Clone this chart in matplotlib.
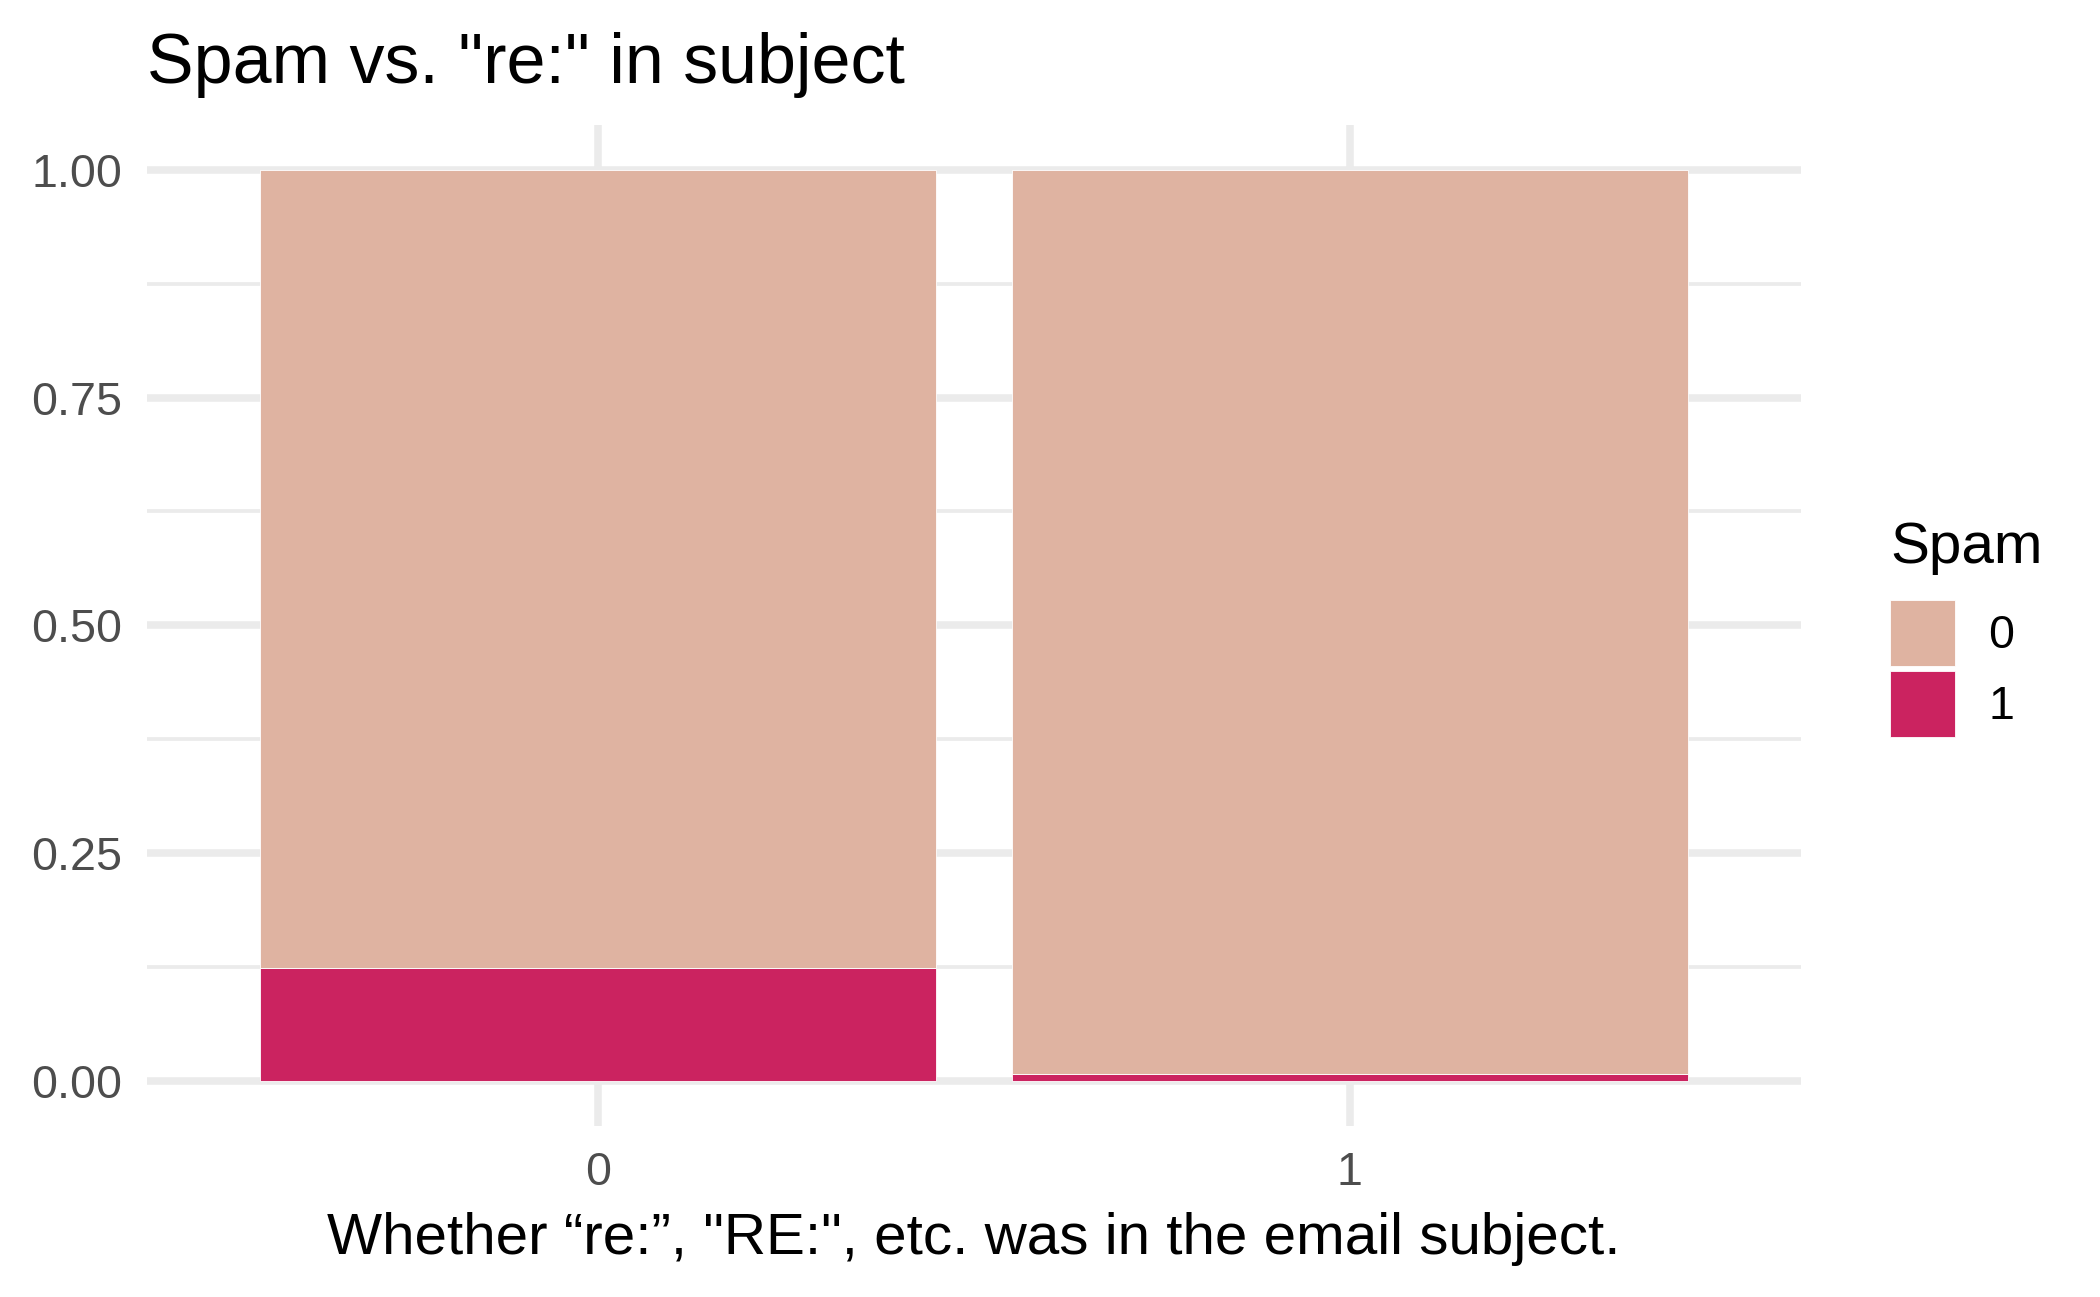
import matplotlib
matplotlib.use("Agg")
import matplotlib.pyplot as plt
import numpy as np

# proportions of spam by whether "re:" was in the subject
categories = ["0", "1"]
spam_1 = [0.1234, 0.0074]
spam_0 = [1 - v for v in spam_1]
fill_labels = ["0", "1"]
fill_colors = ["#DFB3A1", "#CB2360"]

plt.rcParams["font.family"] = ["Liberation Sans", "DejaVu Sans"]

fig = plt.figure(figsize=(7.0, 1297 / 300), dpi=300)
ax = fig.add_axes([0.07, 0.1318, 0.7876, 0.7722])

x = np.arange(len(categories))
b1 = ax.bar(x, spam_1, width=0.9, color=fill_colors[1], edgecolor="white", linewidth=0.2, zorder=2)
b0 = ax.bar(x, spam_0, width=0.9, bottom=spam_1, color=fill_colors[0],
            edgecolor="white", linewidth=0.2, zorder=2)

ax.set_xlim(-0.6, len(categories) - 0.4)
ax.set_ylim(-0.05, 1.05)
ax.set_xticks(x)
ax.set_xticklabels(categories)
ax.set_yticks([0, 0.25, 0.5, 0.75, 1.0])
ax.set_yticklabels(["0.00", "0.25", "0.50", "0.75", "1.00"])
ax.set_yticks([0.125, 0.375, 0.625, 0.875], minor=True)

grid_c = "#EBEBEB"
ax.grid(True, which="major", color=grid_c, linewidth=1.8, zorder=0)
ax.grid(True, which="minor", axis="y", color=grid_c, linewidth=0.9, zorder=0)
ax.set_axisbelow(True)
for s in ax.spines.values():
    s.set_visible(False)
ax.tick_params(which="both", length=0, labelsize=11.2, labelcolor="#4D4D4D")
ax.tick_params(axis="x", pad=6)
ax.tick_params(axis="y", pad=6)

ax.set_xlabel('Whether \u201cre:\u201d, "RE:", etc. was in the email subject.', fontsize=14, labelpad=4)
fig.text(0.07, 0.936, 'Spam vs. "re:" in subject', fontsize=16.8, ha="left", va="baseline")

leg = fig.legend([b0, b1], fill_labels, title="Spam", loc="upper left",
                 bbox_to_anchor=(0.900, 0.598), frameon=False, fontsize=11.2,
                 title_fontsize=14, handlelength=1.39, handleheight=1.79,
                 labelspacing=0.1, handletextpad=0.72, borderaxespad=0, borderpad=0)
leg._legend_box.align = "left"
leg._legend_box.sep = 6.0  # extra room between title and keys

fig.savefig("out.png", dpi=300)
